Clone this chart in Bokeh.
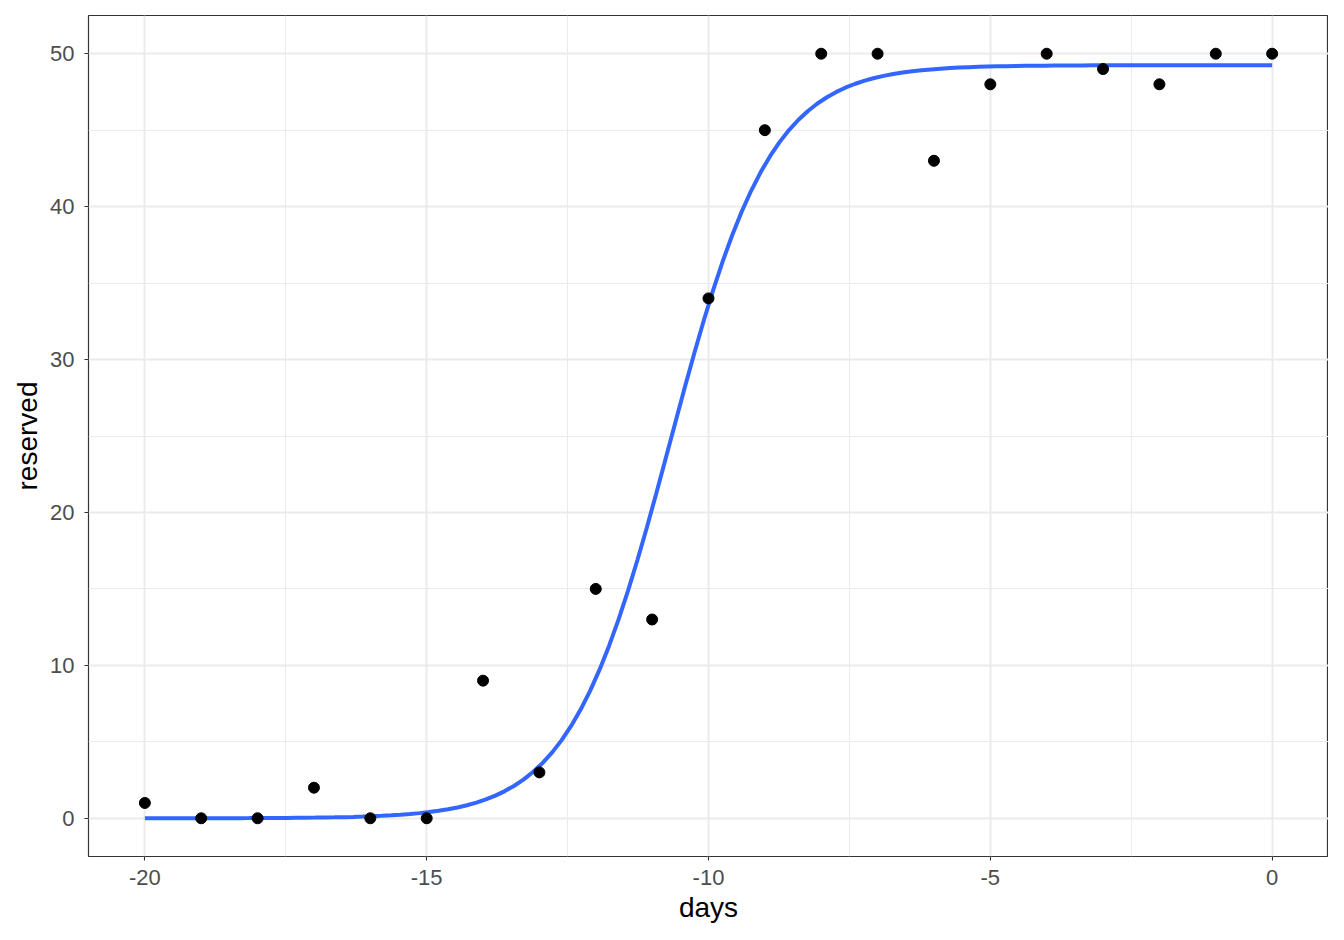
import numpy as np
from bokeh.plotting import figure
from bokeh.models import FixedTicker, Range1d
from bokeh.embed import file_html
from bokeh.resources import INLINE

# observed data
days = [-20, -19, -18, -17, -16, -15, -14, -13, -12, -11, -10,
        -9, -8, -7, -6, -5, -4, -3, -2, -1, 0]
reserved = [1, 0, 0, 2, 0, 0, 9, 3, 15, 13, 34,
            45, 50, 50, 43, 48, 50, 49, 48, 50, 50]

# logistic fit parameters
fit_asym = 49.25
fit_rate = 1.12
fit_mid = -10.68

x_ticks = [-20, -15, -10, -5, 0]
x_labels = ["-20", "-15", "-10", "-5", "0"]
x_minor = [-17.5, -12.5, -7.5, -2.5]
y_ticks = [0, 10, 20, 30, 40, 50]
y_labels = ["0", "10", "20", "30", "40", "50"]
y_minor = [5, 15, 25, 35, 45]

xs = np.linspace(min(days), max(days), 120)
ys = fit_asym / (1 + np.exp(-fit_rate * (xs - fit_mid)))

p = figure(frame_width=1240, frame_height=841,
           min_border_left=88, min_border_right=0,
           min_border_top=15, min_border_bottom=68,
           x_range=Range1d(-21, 1), y_range=Range1d(-2.5, 52.5),
           output_backend="svg", toolbar_location=None,
           background_fill_color="white", border_fill_color="white")

p.outline_line_color = "#333333"
p.outline_line_width = 1.2

for ax, tk, lb, mn in ((p.xaxis, x_ticks, x_labels, x_minor),
                       (p.yaxis, y_ticks, y_labels, y_minor)):
    ax.ticker = FixedTicker(ticks=tk, minor_ticks=mn)
    ax.major_label_overrides = {t: l for t, l in zip(tk, lb)}
    ax.axis_line_color = None
    ax.major_tick_out = 4
    ax.major_tick_in = 0
    ax.major_tick_line_color = "#333333"
    ax.major_tick_line_width = 1.1
    ax.minor_tick_line_color = None
    ax.major_label_text_font = "Liberation Sans"
    ax.major_label_text_font_size = "22px"
    ax.major_label_text_color = "#4D4D4D"
    ax.axis_label_text_font = "Liberation Sans"
    ax.axis_label_text_font_size = "28px"
    ax.axis_label_text_font_style = "normal"
    ax.axis_label_text_color = "black"

p.xaxis.axis_label = "days"
p.yaxis.axis_label = "reserved"
p.xaxis.major_label_standoff = 9
p.yaxis.major_label_standoff = 10
p.xaxis.axis_label_standoff = 4
p.yaxis.axis_label_standoff = 4

for g in (p.xgrid, p.ygrid):
    g.grid_line_color = "#EBEBEB"
    g.grid_line_width = 2
    g.minor_grid_line_color = "#EBEBEB"
    g.minor_grid_line_width = 1

p.line(xs, ys, line_color="#3366FF", line_width=4)
p.scatter(days, reserved, size=11, fill_color="black", line_color="black")

open("out.html", "w").write(file_html(p, INLINE))
